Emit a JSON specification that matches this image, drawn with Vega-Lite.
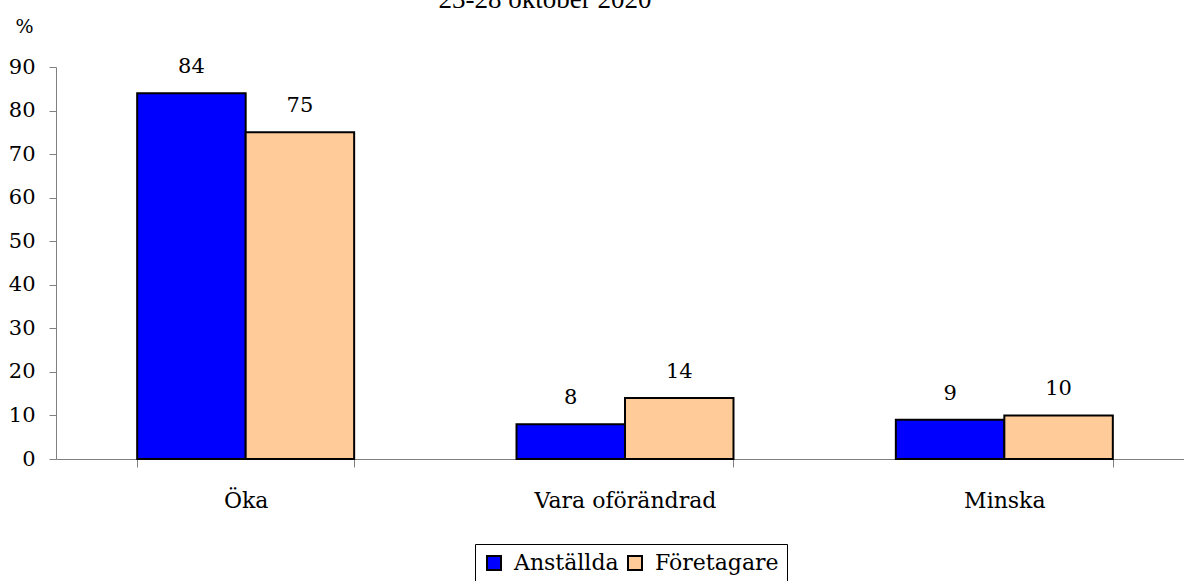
{
  "$schema": "https://vega.github.io/schema/vega-lite/v6.json",
  "autosize": "none",
  "width": 1128,
  "height": 392,
  "padding": {"left": 56, "top": 67, "right": 0, "bottom": 122},
  "background": "white",
  "title": {"text": "23-28 oktober 2020", "font": "Liberation Serif", "fontSize": 27, "fontWeight": "normal", "color": "black", "baseline": "alphabetic", "offset": -18, "dx": -75},
  "config": {
    "view": {"stroke": null}
  },
  "data": {"values": [
    {"kategori": "Öka", "grupp": "Anställda", "varde": 84},
    {"kategori": "Öka", "grupp": "Företagare", "varde": 75},
    {"kategori": "Vara oförändrad", "grupp": "Anställda", "varde": 8},
    {"kategori": "Vara oförändrad", "grupp": "Företagare", "varde": 14},
    {"kategori": "Minska", "grupp": "Anställda", "varde": 9},
    {"kategori": "Minska", "grupp": "Företagare", "varde": 10}
  ]},
  "encoding": {
    "x": {"field": "kategori", "type": "nominal", "sort": ["Öka", "Vara oförändrad", "Minska"],
      "scale": {"paddingInner": 0.428, "paddingOuter": 0.214, "range": [0, 1138]},
      "axis": {"title": null, "labelAngle": 0, "labelLimit": 400, "labelFont": "DejaVu Serif", "labelFontSize": 22, "labelColor": "black", "labelBaseline": "alphabetic", "labelPadding": 40, "tickBand": "extent", "tickSize": 8, "tickColor": "#808080", "domainColor": "#808080", "grid": false}},
    "xOffset": {"field": "grupp", "type": "nominal", "sort": ["Anställda", "Företagare"], "scale": {"paddingInner": 0, "paddingOuter": 0}},
    "y": {"field": "varde", "type": "quantitative", "scale": {"domain": [0, 90]},
      "axis": {"title": "%", "titleAngle": 0, "titleX": -32, "titleY": -35, "titleAlign": "center", "titleBaseline": "alphabetic", "titleFont": "DejaVu Serif", "titleFontSize": 19, "titleFontWeight": "normal", "titleColor": "black",
        "values": [0, 10, 20, 30, 40, 50, 60, 70, 80, 90], "labelFont": "DejaVu Serif", "labelFontSize": 21, "labelColor": "black", "labelPadding": 14, "tickSize": 7, "tickColor": "#808080", "domainColor": "#808080", "grid": false}}
  },
  "layer": [
    {
      "mark": {"type": "bar", "stroke": "black", "strokeWidth": 2},
      "encoding": {
        "color": {"field": "grupp", "type": "nominal", "sort": ["Anställda", "Företagare"],
          "scale": {"domain": ["Anställda", "Företagare"], "range": ["#0000ff", "#ffcc99"]},
          "legend": {"title": null, "orient": "none", "legendX": 419, "legendY": 477, "direction": "horizontal", "symbolType": "square", "symbolSize": 196, "symbolStrokeColor": "black", "symbolStrokeWidth": 2, "symbolOpacity": 1, "labelFont": "DejaVu Serif", "labelFontSize": 22, "labelColor": "black", "labelOffset": 9, "columnPadding": 5, "strokeColor": "black", "padding": 8, "fillColor": "white"}}
      }
    },
    {
      "mark": {"type": "text", "baseline": "alphabetic", "dy": -20, "font": "DejaVu Serif", "fontSize": 21, "color": "black"},
      "encoding": {"text": {"field": "varde", "type": "quantitative"}}
    }
  ]
}
